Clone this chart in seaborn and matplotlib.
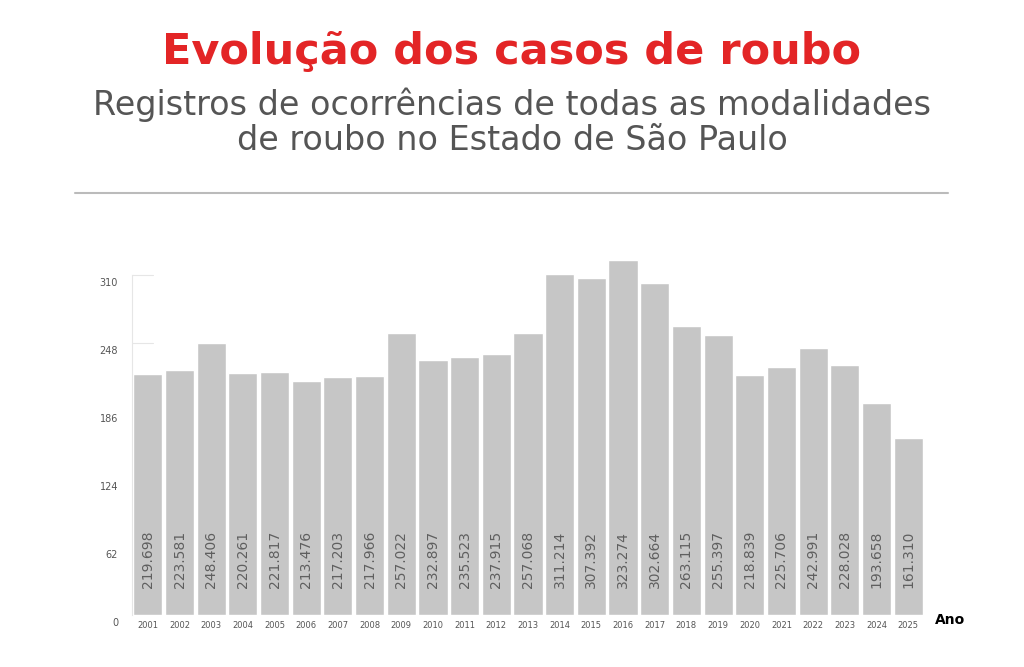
import matplotlib
matplotlib.use('Agg')
import matplotlib.pyplot as plt
import matplotlib.transforms as mtransforms
import seaborn as sns
import pandas as pd

# Data (thousands of occurrences)
years = ['2001', '2002', '2003', '2004', '2005', '2006', '2007', '2008', '2009',
         '2010', '2011', '2012', '2013', '2014', '2015', '2016', '2017', '2018',
         '2019', '2020', '2021', '2022', '2023', '2024', '2025']
cases = [219.698, 223.581, 248.406, 220.261, 221.817, 213.476, 217.203, 217.966,
         257.022, 232.897, 235.523, 237.915, 257.068, 311.214, 307.392, 323.274,
         302.664, 263.115, 255.397, 218.839, 225.706, 242.991, 228.028, 193.658,
         161.310]
y_ticks = [0, 62, 124, 186, 248, 310]

df = pd.DataFrame({'Ano': years, 'Casos': cases})

sns.set_style('white')
plt.rcParams['font.family'] = ['DejaVu Sans']

fig = plt.figure(figsize=(10.24, 6.67), dpi=100)
W, H = 1024, 667
ax = fig.add_axes([132 / W, 1 - 615 / H, (924 - 132) / W, (615 - 253) / H])

sns.barplot(data=df, x='Ano', y='Casos', color='#c6c6c6', width=0.92,
            saturation=1, ax=ax)

# Value labels inside bars
for i, v in enumerate(cases):
    ax.text(i, 25, f'{v:.3f}', rotation=90, ha='center', va='bottom',
            fontsize=10, color='#5f5f5f')

ax.set_xlim(-0.5, 24.5)
ax.set_ylim(0, 330)
ax.set_yticks(y_ticks)
ax.set_yticklabels([str(t) for t in y_ticks], fontsize=7, color='#555555')
ax.set_xlabel('')
ax.set_ylabel('')
ax.tick_params(axis='x', labelsize=6, colors='#555555', length=0, pad=4)
ax.tick_params(axis='y', length=0, pad=10)
ax.set_xticks([i + 0.5 for i in range(-1, 25)], minor=True)
ax.tick_params(axis='x', which='minor', length=5, color='#dddddd', width=0.8)

# shift y tick labels down a bit
offset = mtransforms.ScaledTranslation(0, -7 / 100, fig.dpi_scale_trans)
for lab in ax.get_yticklabels():
    lab.set_transform(lab.get_transform() + offset)

for s in ['top', 'right', 'bottom']:
    ax.spines[s].set_visible(False)
ax.spines['left'].set_color('#e6e6e6')
ax.spines['left'].set_linewidth(0.8)
ax.spines['left'].set_bounds(0, 310)

# short grid stubs at left
for t in [248, 310]:
    ax.plot([0, 0.026], [t, t], transform=ax.get_yaxis_transform(),
            color='#e6e6e6', lw=0.8, zorder=0)

ax.text(935 / W, 1 - 620 / H, 'Ano', transform=fig.transFigure, fontsize=10,
        fontweight='bold', color='black', va='center', ha='left')

# Titles
fig.text(0.5, 1 - 52 / H, 'Evolução dos casos de roubo', ha='center', va='center',
         fontsize=31, fontweight='bold', color='#e32526')
fig.text(0.5, 1 - 105 / H, 'Registros de ocorrências de todas as modalidades',
         ha='center', va='center', fontsize=24, color='#555555')
fig.text(0.5, 1 - 140 / H, 'de roubo no Estado de São Paulo',
         ha='center', va='center', fontsize=24, color='#555555')
fig.add_artist(plt.Line2D([75 / W, 948 / W], [1 - 193 / H, 1 - 193 / H],
                          transform=fig.transFigure, color='#bbbbbb', lw=1.5))

fig.savefig('out.png', dpi=100)
